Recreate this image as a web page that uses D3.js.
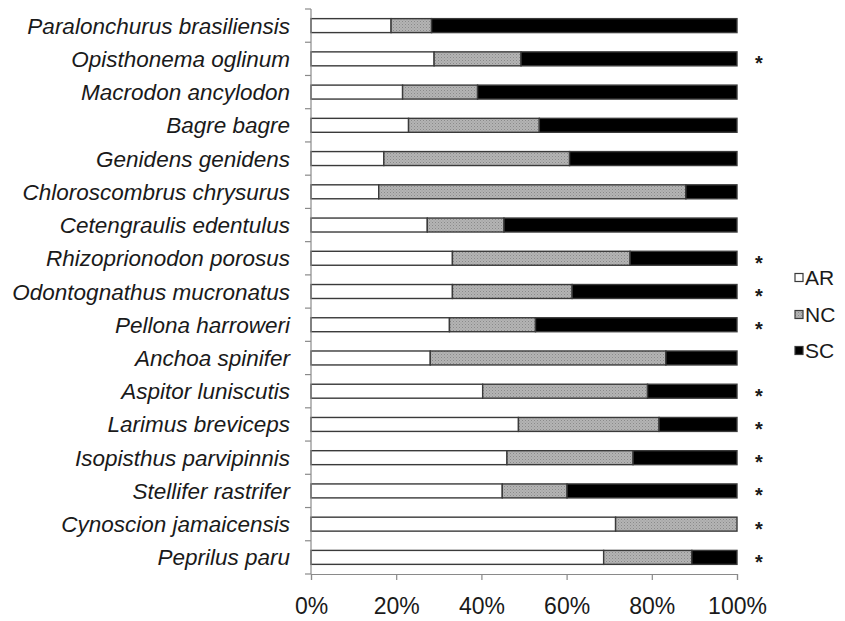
<!DOCTYPE html>
<html>
<head>
<meta charset="utf-8">
<script src="https://cdn.jsdelivr.net/npm/d3@7"></script>
<style>
  html, body { margin: 0; padding: 0; background: #fff; }
  svg { display: block; }
  text { font-family: "Liberation Sans", Arial, sans-serif; fill: #1a1a1a; }
</style>
</head>
<body>
<svg id="chart" width="845" height="621"></svg>
<script>
// Species, top to bottom
const species = [
  "Paralonchurus brasiliensis",
  "Opisthonema oglinum",
  "Macrodon ancylodon",
  "Bagre bagre",
  "Genidens genidens",
  "Chloroscombrus chrysurus",
  "Cetengraulis edentulus",
  "Rhizoprionodon porosus",
  "Odontognathus mucronatus",
  "Pellona harroweri",
  "Anchoa spinifer",
  "Aspitor luniscutis",
  "Larimus breviceps",
  "Isopisthus parvipinnis",
  "Stellifer rastrifer",
  "Cynoscion jamaicensis",
  "Peprilus paru"
];

// Share of each area (percent)
const AR = [18.8, 28.9, 21.5, 22.9, 17.1, 15.9, 27.3, 33.2, 33.2, 32.5, 28.0, 40.3, 48.7, 46.0, 44.9, 71.5, 68.7];
const NC = [ 9.5, 20.4, 17.6, 30.7, 43.6, 72.1, 18.0, 41.7, 28.1, 20.2, 55.3, 38.7, 33.0, 29.6, 15.2, 28.5, 20.7];
const SC = [71.7, 50.7, 60.9, 46.4, 39.3, 12.0, 54.7, 25.1, 38.7, 47.3, 16.7, 21.0, 18.3, 24.4, 39.9,  0.0, 10.6];

// Species flagged with an asterisk
const flagged = [false, true, false, false, false, false, false, true, true, true, false, true, true, true, true, true, true];

const seriesKeys = ["AR", "NC", "SC"];
const xTicks = [0, 20, 40, 60, 80, 100];

const rows = species.map((s, i) => ({ species: s, AR: AR[i], NC: NC[i], SC: SC[i], flag: flagged[i] }));

const svg = d3.select("#chart");
const plotLeft = 311, plotRight = 737, plotTop = 9, plotBottom = 574;

const x = d3.scaleLinear().domain([0, 100]).range([plotLeft, plotRight]);
const y = d3.scaleBand().domain(species).range([plotTop, plotBottom]).paddingInner(0.58).paddingOuter(0.29);

// Stippled grey fill for the NC segment
const defs = svg.append("defs");
const pat = defs.append("pattern")
  .attr("id", "stipple").attr("patternUnits", "userSpaceOnUse")
  .attr("width", 3).attr("height", 3);
pat.append("rect").attr("width", 3).attr("height", 3).attr("fill", "#b4b4b4");
pat.append("rect").attr("x", 0).attr("y", 0).attr("width", 1).attr("height", 1).attr("fill", "#8a8a8a");
pat.append("rect").attr("x", 1.5).attr("y", 1.5).attr("width", 1).attr("height", 1).attr("fill", "#9a9a9a");

const fills = { AR: "#ffffff", NC: "url(#stipple)", SC: "#000000" };

const stack = d3.stack().keys(seriesKeys)(rows);

// Bars
svg.append("g").selectAll("g")
  .data(stack)
  .join("g")
  .attr("fill", d => fills[d.key])
  .selectAll("rect")
  .data(d => d.filter(p => p[1] - p[0] > 0))
  .join("rect")
  .attr("x", d => x(d[0]))
  .attr("y", d => y(d.data.species))
  .attr("width", d => x(d[1]) - x(d[0]))
  .attr("height", y.bandwidth())
  .attr("stroke", "#3a3a3a")
  .attr("stroke-width", 1.4);

// Y axis: line with ticks at category boundaries
const yAxisG = svg.append("g").attr("stroke", "#8a8a8a").attr("stroke-width", 1.2);
yAxisG.append("line").attr("x1", plotLeft).attr("x2", plotLeft).attr("y1", plotTop).attr("y2", plotBottom);
const step = y.step();
d3.range(species.length + 1).forEach(i => {
  const yy = plotTop + i * step;
  yAxisG.append("line").attr("x1", plotLeft - 6).attr("x2", plotLeft).attr("y1", yy).attr("y2", yy);
});

// Category labels
svg.append("g").selectAll("text")
  .data(species)
  .join("text")
  .attr("x", 290)
  .attr("y", d => y(d) + y.bandwidth() / 2 + 8)
  .attr("text-anchor", "end")
  .attr("font-style", "italic")
  .attr("font-size", 22.5)
  .text(d => d);

// X axis
const xAxis = d3.axisBottom(x).tickValues(xTicks).tickFormat(d => d + "%").tickSize(6).tickPadding(18);
const xg = svg.append("g").attr("transform", `translate(0,${plotBottom})`).call(xAxis);
xg.select(".domain").attr("stroke", "#8a8a8a").attr("stroke-width", 1.2);
xg.selectAll(".tick line").attr("stroke", "#8a8a8a").attr("stroke-width", 1.2);
xg.selectAll(".tick text").attr("font-size", 23).attr("fill", "#1a1a1a")
  .attr("font-family", "Liberation Sans, Arial, sans-serif");

// Asterisks
svg.append("g").selectAll("text")
  .data(rows.filter(r => r.flag))
  .join("text")
  .attr("x", 759)
  .attr("y", d => y(d.species) + y.bandwidth() / 2 + 11.5)
  .attr("text-anchor", "middle")
  .attr("font-size", 20)
  .attr("font-weight", "bold")
  .text("*");

// Legend
const legend = svg.append("g");
const legendY = [277.5, 314.5, 350.5];
seriesKeys.forEach((k, i) => {
  legend.append("rect")
    .attr("x", 795).attr("y", legendY[i] - 4)
    .attr("width", 8).attr("height", 8)
    .attr("fill", fills[k]).attr("stroke", "#3a3a3a").attr("stroke-width", 1.2);
  legend.append("text")
    .attr("x", 805).attr("y", legendY[i] + 7.5)
    .attr("font-size", 21)
    .text(k);
});
</script>
</body>
</html>
